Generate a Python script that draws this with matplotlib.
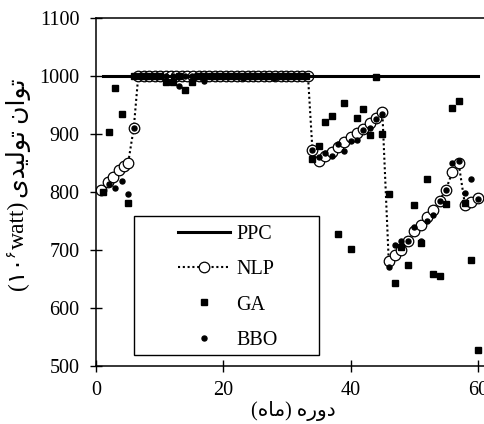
import matplotlib
matplotlib.use('Agg')
import matplotlib.pyplot as plt
from matplotlib.patches import Rectangle

plt.rcParams['font.family'] = ['Liberation Serif', 'DejaVu Sans']

# ماه ها (محور افقی)
months = list(range(1, 61))

ppc = [1000] * 60

ga = [800, 904, 980, 935, 780, 1000, 1000, 1000, 1000, 1000,
      990, 990, 1000, 976, 990, 1000, 1000, 1000, 1000, 1000,
      1000, 1000, 1000, 1000, 1000, 1000, 1000, 1000, 1000, 1000,
      1000, 1000, 1000, 856, 879, 920, 931, 728, 954, 701,
      927, 943, 898, 999, 899, 796, 643, 705, 673, 777,
      711, 823, 658, 654, 779, 944, 956, 780, 683, 527]

bbo = [800, 813, 807, 818, 796, 911, 1000, 1000, 1000, 1000,
       1000, 1000, 983, 1000, 1000, 1000, 991, 1000, 1000, 1000,
       1000, 1000, 996, 1000, 1000, 1000, 1000, 996, 1000, 1000,
       1000, 1000, 1000, 872, 860, 867, 862, 882, 870, 888,
       889, 906, 910, 925, 934, 670, 709, 716, 715, 740,
       716, 750, 760, 785, 804, 849, 853, 798, 823, 788]

nlp_x = [0.8, 1.9, 2.7, 3.5, 4.3, 5.0, 5.9,
         6.6, 7.5, 8.3, 9.2, 10.0, 10.9, 11.8, 12.6, 13.5, 14.3, 15.2,
         16.1, 16.9, 17.8, 18.6, 19.5, 20.4, 21.2, 22.1, 22.9, 23.8,
         24.7, 25.5, 26.4, 27.2, 28.1, 29.0, 29.8, 30.7, 31.5, 32.4, 33.3,
         34, 35, 36, 37, 38, 39, 40, 41, 42, 43, 44, 45,
         46, 47, 48, 49, 50, 51, 52, 53, 54, 55, 56, 57, 58, 59, 60]
nlp_y = [804, 817, 826, 837, 844, 849, 911,
         1000, 1000, 1000, 1000, 1000, 1000, 1000, 1000, 1000, 1000, 1000,
         1000, 1000, 1000, 1000, 1000, 1000, 1000, 1000, 1000, 1000,
         1000, 1000, 1000, 1000, 1000, 1000, 1000, 1000, 1000, 1000, 1000,
         872, 853, 862, 869, 878, 886, 895, 901, 909, 918, 928, 937,
         681, 691, 700, 716, 732, 742, 757, 768, 785, 804, 834, 849, 777, 783, 790]

# متن محورها (ترتیب نمایشی، حروف شکل یافته)
ylabel_parts = ['(\u06f1\u06f0', '\u06f6', 'watt)',
                '\ufeef\ufeaa\ufef4\ufedf\ufeee\ufe97 \ufee5\ufe8d\ufeee\ufe97']
xlabel = '(\ufee9\ufe8e\ufee3) \ufee9\ufead\ufeed\ufea9'

W, H = 484, 424
fs = 14.5
fs_lab = 17
fig = plt.figure(figsize=(W / 100, H / 100), dpi=100)
ax = fig.add_axes([96.3 / W, 1 - 365.7 / H, 62 * 6.357 / W, (365.7 - 18) / H])

l_nlp, = ax.plot(nlp_x, nlp_y, ls=(0, (1, 1.3)), lw=1.5, color='black',
                 marker='o', ms=7.6, mfc='white', mec='black', mew=0.9,
                 zorder=2, label='NLP')
l_ppc, = ax.plot(months, ppc, color='black', lw=2.2, zorder=3, label='PPC')
l_ga, = ax.plot(months, ga, ls='none', marker='s', ms=4.8, color='black',
                zorder=4, label='GA')
l_bbo, = ax.plot(months, bbo, ls='none', marker='o', ms=3.6, color='black',
                 zorder=5, label='BBO')

ax.set_xlim(0, 62)
ax.set_ylim(500, 1100)
ax.set_xticks([0, 20, 40, 60])
ax.set_yticks(range(500, 1101, 100))
ax.tick_params(direction='inout', length=8.5, width=1, labelsize=fs,
               color='black')
ax.tick_params(axis='y', pad=8)
ax.tick_params(axis='x', pad=7)
for s in ax.spines.values():
    s.set_linewidth(1.1)
ax.spines['right'].set_visible(False)

# کادر راهنما
box = Rectangle((134 / W, 1 - 355 / H), (319 - 134) / W, (355 - 216) / H,
                transform=fig.transFigure, facecolor='white',
                edgecolor='black', lw=1, zorder=10)
ax.add_artist(box)
leg = ax.legend([l_ppc, l_nlp, l_ga, l_bbo], ['PPC', 'NLP', 'GA', 'BBO'],
                loc='upper left', bbox_to_anchor=(178 / W, 1 - 225 / H),
                bbox_transform=fig.transFigure, frameon=False, numpoints=1,
                handlelength=2.6, handletextpad=0.3, labelspacing=0.8,
                borderpad=0, borderaxespad=0, fontsize=fs)
leg.set_zorder(11)

# برچسب محور عمودی: تکه ها پشت سر هم (توان ۶ کوچک تر)
r = fig.canvas.get_renderer()
t1 = fig.text(18, H - 290, ylabel_parts[0], rotation=90, ha='center',
              va='bottom', fontsize=fs_lab, transform=None)
b = t1.get_window_extent(r)
t2 = fig.text(18 - 7, b.y1, ylabel_parts[1], rotation=90, ha='center',
              va='bottom', fontsize=fs_lab * 0.6, transform=None)
b = t2.get_window_extent(r)
t3 = fig.text(18, b.y1, ylabel_parts[2], rotation=90, ha='center',
              va='bottom', fontsize=fs_lab, transform=None)
b = t3.get_window_extent(r)
fig.text(19, b.y1 + 3, ylabel_parts[3], rotation=90, ha='center',
         va='bottom', fontsize=18, transform=None)

fig.text(293 / W, 1 - 411 / H, xlabel, ha='center', va='center', fontsize=fs)

fig.savefig('out.png', dpi=100)
